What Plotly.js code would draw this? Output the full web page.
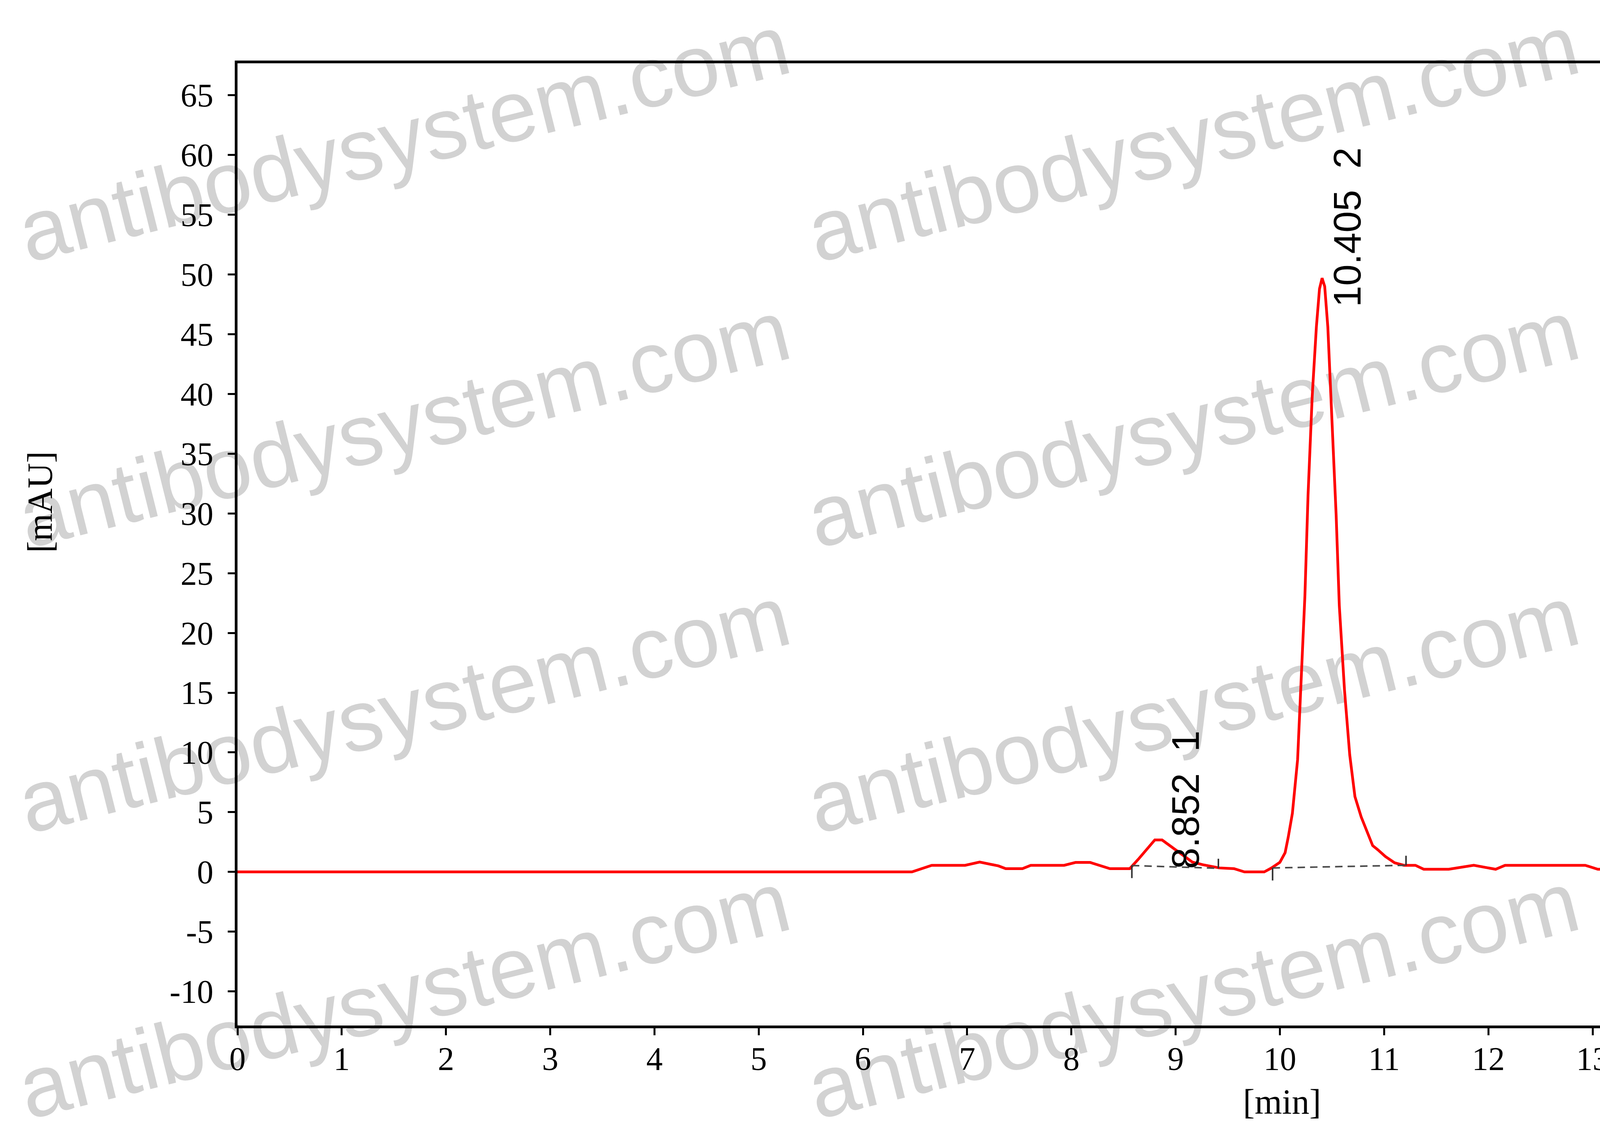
<!DOCTYPE html>
<html>
<head>
<meta charset="utf-8">
<script src="https://cdn.plot.ly/plotly-3.0.1.min.js"></script>
<style>
  html, body { margin: 0; padding: 0; background: #ffffff; }
  #chart { width: 6033px; height: 2895px; }
</style>
</head>
<body>
<div id="chart"></div>
<script>
// Chromatogram trace
const timeMin = [0, 6.47, 6.66, 6.98, 7.12, 7.25, 7.30, 7.37, 7.53, 7.61, 7.93, 8.04, 8.18, 8.37, 8.56,
  8.64, 8.80, 8.87, 9.02, 9.16, 9.26, 9.42, 9.56, 9.66, 9.85, 9.92, 10.00, 10.05, 10.08, 10.12,
  10.17, 10.20, 10.24, 10.27, 10.31, 10.35, 10.38, 10.405, 10.43, 10.46, 10.50, 10.54, 10.57, 10.62,
  10.67, 10.72, 10.78, 10.83, 10.89, 10.94, 11.01, 11.10, 11.19, 11.30, 11.38, 11.62, 11.86, 12.07,
  12.16, 12.93, 13.05, 13.29, 13.48, 13.54, 13.59, 13.71, 13.78, 13.84, 14.00, 14.03, 14.17, 14.22,
  14.26, 14.34, 14.39, 14.43, 14.47, 14.56, 14.60, 14.65, 14.81, 14.92, 15.04, 15.11, 15.18, 15.23,
  15.37, 15.42, 15.47, 15.54, 15.59, 15.66, 15.83, 15.92, 15.99, 16.14, 16.44, 16.64, 16.97, 17.44,
  18.04, 18.25, 19.45, 19.73, 20.0];
const mAU = [0, 0, 0.55, 0.55, 0.82, 0.55, 0.50, 0.27, 0.27, 0.55, 0.55, 0.79, 0.79, 0.27, 0.27,
  1.04, 2.67, 2.67, 1.69, 0.82, 0.60, 0.33, 0.27, 0, 0, 0.33, 0.80, 1.60, 2.90, 4.90,
  9.4, 15.6, 23.1, 31.5, 39.8, 45.6, 48.8, 49.7, 49.0, 45.6, 38.1, 29.8, 22.3, 15.2,
  9.8, 6.3, 4.6, 3.5, 2.2, 1.85, 1.30, 0.76, 0.55, 0.55, 0.22, 0.22, 0.55, 0.22,
  0.55, 0.55, 0.22, 0.25, 0.55, 0.41, -0.19, -3.37, -3.97, -3.37, 0.52, 0.36, -3.04, -3.24,
  -2.80, 0.80, 1.45, 1.75, 1.23, -1.30, -1.89, -1.60, -0.03, -0.03, -0.32, -0.03, -0.03, 0.36,
  3.31, 3.45, 2.93, -0.19, -2.20, -2.98, -0.63, -0.30, -0.25, 0, -0.23, 0, 0, -0.23,
  0.05, -0.23, -0.23, 0.05, -0.25];

// Integrated peaks
const peakNo = [1, 2];
const peakRT = [8.852, 10.405];
const peakHeight = [2.67, 49.7];
const baseStartT = [8.58, 9.93];
const baseStartY = [0.53, 0.33];
const baseEndT = [9.41, 11.21];
const baseEndY = [0.30, 0.55];

// Axis ticks
const xTicks = [0, 1, 2, 3, 4, 5, 6, 7, 8, 9, 10, 11, 12, 13, 14, 15, 16, 17, 18, 19];
const yTicks = [-10, -5, 0, 5, 10, 15, 20, 25, 30, 35, 40, 45, 50, 55, 60, 65];

const W = 6033, H = 2895;
const M = { l: 608, r: 88, t: 162, b: 270 };
const serif = 'Liberation Serif, Times New Roman, serif';
const sans = 'Liberation Sans, Arial, sans-serif';

// pixel position on the page -> paper coords
function px2paper(x, y) {
    const pw = W - M.l - M.r, ph = H - M.t - M.b;
    return { x: (x - M.l) / pw, y: (H - M.b - y) / ph };
}

// 1. Traces
const traces = [];
traces.push({
    x: timeMin, y: mAU, type: 'scatter', mode: 'lines',
    line: { color: '#ff0000', width: 7 }, hoverinfo: 'skip'
});

// dashed integration baselines
peakNo.forEach((n, i) => {
    traces.push({
        x: [baseStartT[i], baseEndT[i]], y: [baseStartY[i], baseEndY[i]],
        type: 'scatter', mode: 'lines',
        line: { color: '#4a4a4a', width: 4, dash: '19px,13px' }
    });
});

// start / end ticks of the integration (error bars as short vertical marks)
traces.push({
    x: baseStartT, y: baseStartY, type: 'scatter', mode: 'markers',
    marker: { size: 1, opacity: 0 },
    error_y: { type: 'data', symmetric: false, array: [0, 0], arrayminus: [1.05, 1.05],
               width: 0, thickness: 4, color: '#333333' }
});
traces.push({
    x: baseEndT, y: baseEndY, type: 'scatter', mode: 'markers',
    marker: { size: 1, opacity: 0 },
    error_y: { type: 'data', symmetric: false, array: [0.8, 0.8], arrayminus: [0, 0],
               width: 0, thickness: 4, color: '#333333' }
});

// 2. Annotations
const annotations = peakNo.map((n, i) => ({
    x: peakRT[i], y: peakHeight[i], xref: 'x', yref: 'y',
    text: peakRT[i].toFixed(3) + '\u00a0\u00a0' + n,
    textangle: -90, xanchor: 'center', yanchor: 'bottom',
    xshift: 65, yshift: -76, showarrow: false,
    font: { family: sans, size: 98, color: '#000000' }
}));

const yt = px2paper(102, 1285);
annotations.push({
    x: yt.x, y: yt.y, xref: 'paper', yref: 'paper', text: '[mAU]', textangle: -90,
    showarrow: false, xanchor: 'center', yanchor: 'middle',
    font: { family: serif, size: 90, color: '#000000' }
});
const xt = px2paper(3282, 2820);
annotations.push({
    x: xt.x, y: xt.y, xref: 'paper', yref: 'paper', text: '[min]',
    showarrow: false, xanchor: 'center', yanchor: 'middle',
    font: { family: serif, size: 90, color: '#000000' }
});

// watermark grid, drawn under the trace
const shapes = [];
[1029, 3049, 5069].forEach(cx => {
    [333, 1064, 1795, 2526].forEach(cy => {
        const p = px2paper(cx, cy);
        shapes.push({
            type: 'rect', xref: 'paper', yref: 'paper', layer: 'below',
            x0: p.x - 0.001, x1: p.x + 0.001, y0: p.y - 0.001, y1: p.y + 0.001,
            line: { width: 0 }, fillcolor: 'rgba(0,0,0,0)',
            label: { text: 'antibodysystem.com', textangle: -14, textposition: 'middle center',
                     font: { family: sans, size: 222, color: '#d2d2d2' } }
        });
    });
});

// 3. Layout
function axis(range, ticks) {
    return {
        range: range, tickmode: 'array', tickvals: ticks, ticktext: ticks.map(String),
        ticks: 'outside', ticklen: 18, tickwidth: 5, tickcolor: '#000000',
        showline: true, mirror: true, linewidth: 7, linecolor: '#000000',
        showgrid: false, zeroline: false, fixedrange: true,
        tickfont: { family: serif, size: 84, color: '#000000' }
    };
}

const layout = {
    width: W, height: H, margin: M,
    paper_bgcolor: '#ffffff', plot_bgcolor: 'rgba(0,0,0,0)',
    showlegend: false,
    xaxis: { ...axis([0, 20], xTicks), ticklabelstandoff: -12 },
    yaxis: { ...axis([-12.86, 67.68], yTicks), ticklabelstandoff: 20 },
    annotations: annotations,
    shapes: shapes
};

Plotly.newPlot('chart', traces, layout, { staticPlot: true });
</script>
</body>
</html>
